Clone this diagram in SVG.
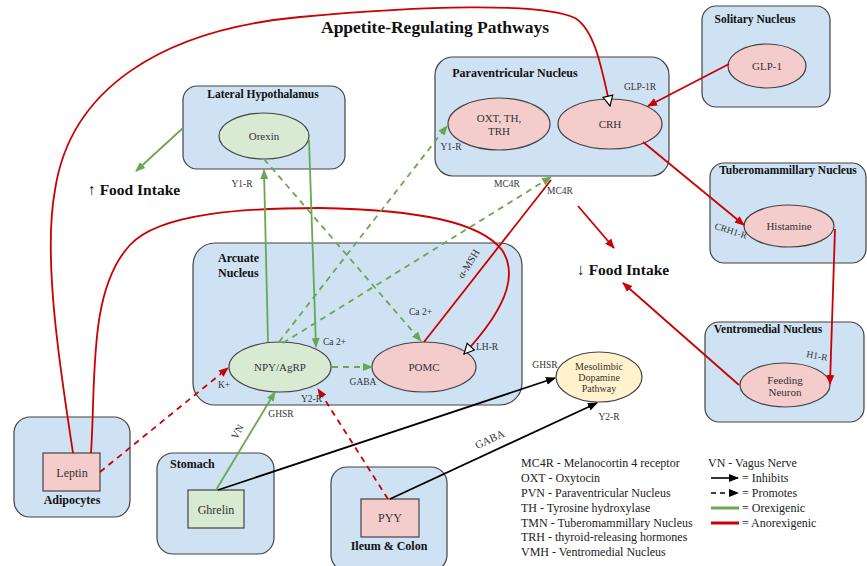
<svg xmlns="http://www.w3.org/2000/svg" width="867" height="566" viewBox="0 0 867 566">
<style>
.box{fill:#cfe2f3;stroke:#434343;stroke-width:1.2}
.pink{fill:#f4cccc;stroke:#434343;stroke-width:1.2}
.grn{fill:#d9ead3;stroke:#434343;stroke-width:1.2}
.yel{fill:#fff2cc;stroke:#434343;stroke-width:1.2}
text{font-family:"Liberation Serif","Times New Roman",serif;fill:#333}
.t{font-weight:bold;font-size:12px;fill:#111}
.n{font-size:11px;text-anchor:middle}
.s{font-size:9.5px}
.lg{font-size:12px;fill:#222}
.fi{font-weight:bold;font-size:15.5px;fill:#111}
.r{stroke:#cc0000;stroke-width:1.8;fill:none}
.g{stroke:#6aa84f;stroke-width:1.8;fill:none}
.k{stroke:#000;stroke-width:1.8;fill:none}
.d{stroke-dasharray:6,5}
</style>
<defs>
<marker id="ar" viewBox="0 0 10 10" refX="9" refY="5" markerWidth="10" markerHeight="10" markerUnits="userSpaceOnUse" orient="auto"><path d="M0,1 L10,5 L0,9 z" fill="#cc0000"/></marker>
<marker id="ag" viewBox="0 0 10 10" refX="9" refY="5" markerWidth="10" markerHeight="10" markerUnits="userSpaceOnUse" orient="auto"><path d="M0,1 L10,5 L0,9 z" fill="#6aa84f"/></marker>
<marker id="ak" viewBox="0 0 10 10" refX="9" refY="5" markerWidth="10" markerHeight="10" markerUnits="userSpaceOnUse" orient="auto"><path d="M0,1 L10,5 L0,9 z" fill="#000"/></marker>
<marker id="ao" viewBox="0 0 12 12" refX="11" refY="6" markerWidth="12" markerHeight="12" markerUnits="userSpaceOnUse" orient="auto"><path d="M1,1 L11,6 L1,11 z" fill="#fff" stroke="#000" stroke-width="1.2"/></marker>
</defs>
<rect width="867" height="566" fill="#fff"/>
<text x="435" y="33" text-anchor="middle" style="font-weight:bold;font-size:17.5px;fill:#111">Appetite-Regulating Pathways</text>

<g id="lateral-hypothalamus">
<rect class="box" x="183" y="86" width="162" height="83" rx="14"/>
<text class="t" x="263" y="98" text-anchor="middle" style="font-size:11.5px">Lateral Hypothalamus</text>
</g>
<g id="orexin"><ellipse class="grn" cx="264" cy="136" rx="45" ry="23"/><text class="n" x="264" y="140">Orexin</text></g>

<g id="paraventricular-nucleus">
<rect class="box" x="435" y="57" width="234" height="119" rx="18"/>
<text class="t" x="515" y="77" text-anchor="middle">Paraventricular Nucleus</text>
</g>
<g id="oxt"><ellipse class="pink" cx="499" cy="124" rx="51" ry="26"/><text class="n" x="499" y="122">OXT, TH,</text><text class="n" x="499" y="135">TRH</text></g>
<g id="crh"><ellipse class="pink" cx="610" cy="124" rx="52" ry="25"/><text class="n" x="610" y="128">CRH</text></g>

<g id="solitary-nucleus">
<rect class="box" x="702" y="6" width="128" height="101" rx="14"/>
<text class="t" x="755" y="23" text-anchor="middle" style="font-size:11.5px">Solitary Nucleus</text>
</g>
<g id="glp1"><ellipse class="pink" cx="767" cy="66" rx="39" ry="22"/><text class="n" x="767" y="70">GLP-1</text></g>

<g id="tuberomammillary-nucleus">
<rect class="box" x="710" y="163" width="156" height="100" rx="14"/>
<text class="t" x="788" y="174" text-anchor="middle" style="font-size:11.5px">Tuberomammillary Nucleus</text>
</g>
<g id="histamine"><ellipse class="pink" cx="789" cy="226" rx="45" ry="21"/><text class="n" x="789" y="230">Histamine</text></g>

<g id="ventromedial-nucleus">
<rect class="box" x="705" y="322" width="159" height="100" rx="14"/>
<text class="t" x="768" y="333" text-anchor="middle" style="font-size:11.5px">Ventromedial Nucleus</text>
</g>
<g id="feeding-neuron"><ellipse class="pink" cx="785" cy="385" rx="45" ry="22"/><text class="n" x="785" y="384">Feeding</text><text class="n" x="785" y="396">Neuron</text></g>

<g id="arcuate-nucleus">
<rect class="box" x="193" y="243" width="329" height="162" rx="22"/>
<text class="t" x="218" y="262">Arcuate</text>
<text class="t" x="218" y="277">Nucleus</text>
</g>
<g id="npy-agrp"><ellipse class="grn" cx="280" cy="367" rx="51" ry="25"/><text class="n" x="280" y="371">NPY/AgRP</text></g>
<g id="pomc"><ellipse class="pink" cx="424" cy="367" rx="52" ry="25"/><text class="n" x="424" y="371">POMC</text></g>
<g id="mesolimbic"><ellipse class="yel" cx="599" cy="377" rx="43" ry="25"/><text class="n" x="599" y="370" style="font-size:10px">Mesolimbic</text><text class="n" x="599" y="381" style="font-size:10px">Dopamine</text><text class="n" x="599" y="392" style="font-size:10px">Pathway</text></g>

<g id="adipocytes">
<rect class="box" x="14" y="417" width="116" height="100" rx="16"/>
<text class="t" x="72" y="504" text-anchor="middle">Adipocytes</text>
</g>
<g id="leptin"><rect class="pink" x="43" y="453" width="57" height="38"/><text class="n" x="72" y="477" style="font-size:12px">Leptin</text></g>

<g id="stomach">
<rect class="box" x="157" y="453" width="117" height="101" rx="16"/>
<text class="t" x="170" y="468">Stomach</text>
</g>
<g id="ghrelin"><rect class="grn" x="188" y="490" width="56" height="38"/><text class="n" x="216" y="514" style="font-size:12px">Ghrelin</text></g>

<g id="ileum-colon">
<rect class="box" x="331" y="467" width="116" height="104" rx="16"/>
<text class="t" x="389" y="550" text-anchor="middle">Ileum &amp; Colon</text>
</g>
<g id="pyy"><rect class="pink" x="361" y="499" width="58" height="38"/><text class="n" x="390" y="522" style="font-size:12px">PYY</text></g>

<g id="food-intake-up"><text class="fi" x="88" y="195">↑ Food Intake</text></g>
<g id="food-intake-down"><text class="fi" x="577" y="275">↓ Food Intake</text></g>

<g id="connectors">
<path class="r" d="M73 453 C62 380,42 260,55 190 C70 90,160 30,300 17 C420 6,540 2,575 18 C595 30,602 70,610 106" marker-end="url(#ao)"/>
<path class="r" d="M91 453 C96 380,88 290,130 245 C160 212,250 208,320 208 C420 210,480 222,502 250 C515 270,514 300,464 354" marker-end="url(#ao)"/>
<path class="r d" d="M100 472 L228 368" marker-end="url(#ar)"/>
<path class="g" d="M216 490 L275 392" marker-end="url(#ag)"/>
<path class="k" d="M218 490 L555 378" marker-end="url(#ak)"/>
<path class="k" d="M390 499 L597 403" marker-end="url(#ak)"/>
<path class="r d" d="M388 499 L318 389" marker-end="url(#ar)"/>
<path class="g" d="M268 342 L264 170" marker-end="url(#ag)"/>
<path class="g" d="M309 140 L316 347" marker-end="url(#ag)"/>
<path class="g d" d="M264 159 L421 341" marker-end="url(#ag)"/>
<path class="g d" d="M279 342 L447 126" marker-end="url(#ag)"/>
<path class="g d" d="M283 343 L551 177" marker-end="url(#ag)"/>
<path class="r" d="M424 342 L551 180"/>
<path class="g d" d="M332 367 L372 367" marker-end="url(#ag)"/>
<path class="g" d="M183 128 L136 171" marker-end="url(#ag)"/>
<path class="r" d="M643 142 L744 225" marker-end="url(#ar)"/>
<path class="r" d="M729 64 L648 106" marker-end="url(#ar)"/>
<path class="r" d="M835 229 L830 384" marker-end="url(#ar)"/>
<path class="r" d="M739 385 L623 283" marker-end="url(#ar)"/>
<path class="r" d="M578 206 L614 248" marker-end="url(#ar)"/>
</g>

<g id="edge-labels">
<text class="s" x="242" y="187" text-anchor="middle">Y1-R</text>
<text class="s" x="640" y="90" text-anchor="middle">GLP-1R</text>
<text class="s" x="451" y="150" text-anchor="middle">Y1-R</text>
<text class="s" x="507" y="187" text-anchor="middle">MC4R</text>
<text class="s" x="560" y="194" text-anchor="middle">MC4R</text>
<text class="s" x="731" y="234" text-anchor="middle" transform="rotate(18 731 231)">CRH1-R</text>
<text class="s" x="817" y="359" text-anchor="middle" transform="rotate(10 817 356)">H1-R</text>
<text class="s" x="323" y="345">Ca 2+</text>
<text class="s" x="409" y="315">Ca 2+</text>
<text class="s" x="218" y="388">K+</text>
<text class="s" x="301" y="402">Y2-R</text>
<text class="s" x="363" y="385" text-anchor="middle">GABA</text>
<text class="s" x="281" y="417" text-anchor="middle">GHSR</text>
<text class="s" x="238" y="435" text-anchor="middle" transform="rotate(-60 238 432)" style="font-size:10.5px">VN</text>
<text class="s" x="469" y="267" text-anchor="middle" transform="rotate(-58 469 264)" style="font-size:10.5px">α-MSH</text>
<text class="s" x="476" y="350">LH-R</text>
<text class="s" x="545" y="368" text-anchor="middle">GHSR</text>
<text class="s" x="609" y="420" text-anchor="middle">Y2-R</text>
<text class="s" x="490" y="443" text-anchor="middle" transform="rotate(-25 490 440)" style="font-size:11px">GABA</text>
</g>

<g id="legend">
<text class="lg" x="521" y="467">MC4R - Melanocortin 4 receptor</text>
<text class="lg" x="521" y="482">OXT - Oxytocin</text>
<text class="lg" x="521" y="497">PVN - Paraventricular Nucleus</text>
<text class="lg" x="521" y="512">TH - Tyrosine hydroxylase</text>
<text class="lg" x="521" y="527">TMN - Tuberomammillary Nucleus</text>
<text class="lg" x="521" y="541">TRH - thyroid-releasing hormones</text>
<text class="lg" x="521" y="556">VMH - Ventromedial Nucleus</text>
<text class="lg" x="708" y="467">VN - Vagus Nerve</text>
<path d="M711 478 L738 478" stroke="#000" stroke-width="1.6" marker-end="url(#ak)"/>
<text class="lg" x="742" y="482">= Inhibits</text>
<path d="M711 493 L738 493" stroke="#000" stroke-width="1.6" stroke-dasharray="5,4" marker-end="url(#ak)"/>
<text class="lg" x="742" y="497">= Promotes</text>
<path d="M711 508 L739 508" stroke="#6aa84f" stroke-width="3"/>
<text class="lg" x="742" y="512">= Orexigenic</text>
<path d="M711 523 L739 523" stroke="#cc0000" stroke-width="3"/>
<text class="lg" x="742" y="527">= Anorexigenic</text>
</g>
</svg>
